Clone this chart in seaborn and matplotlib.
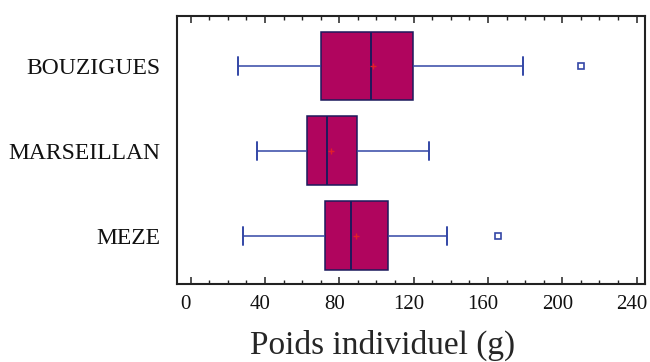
import numpy as np
import pandas as pd
import matplotlib
matplotlib.use("Agg")
import matplotlib.pyplot as plt
import matplotlib.transforms as mtransforms
import seaborn as sns
from matplotlib.ticker import MultipleLocator

# box summary (g)
sites = ["BOUZIGUES", "MARSEILLAN", "MEZE"]
whis_low = [25.6, 35.5, 28.3]
q1 = [70.1, 62.4, 72.3]
median = [97.2, 73.5, 86.3]
q3 = [119.5, 89.5, 106.4]
whis_high = [179.0, 128.4, 137.8]
outliers = [[209.9], [], [165.6]]
means = [98.3, 75.5, 88.8]

# rebuild a small sample per site whose quartiles give those boxes
rows = []
for i, s in enumerate(sites):
    vals = [whis_low[i], q1[i], q1[i], median[i], median[i], median[i], q3[i]]
    if outliers[i]:
        vals += [whis_high[i]] + outliers[i]
    else:
        vals += [q3[i], whis_high[i]]
    rows += [(s, v) for v in vals]
df = pd.DataFrame(rows, columns=["site", "poids"])

sns.set_style("ticks")
plt.rcParams["font.family"] = ["Liberation Serif", "DejaVu Serif"]
plt.rcParams["text.color"] = "#111111"
plt.rcParams["xtick.labelcolor"] = "#111111"
plt.rcParams["ytick.labelcolor"] = "#111111"

fill = "#B0055E"
edge = "#1c1a5c"
blue = "#3346a6"

fig = plt.figure(figsize=(6.5, 3.62), dpi=100)
ax = fig.add_axes([176.7 / 650, 1 - 284 / 362, (645 - 176.7) / 650, (284 - 16) / 362])

sns.boxplot(data=df, x="poids", y="site", order=sites, ax=ax, width=0.81,
            color=fill, saturation=1, linewidth=1.1, capwidths=0.21,
            boxprops=dict(facecolor=fill, edgecolor=edge, linewidth=1.1),
            medianprops=dict(color=edge, linewidth=1.4),
            whiskerprops=dict(color=blue, linewidth=1.1),
            capprops=dict(color=blue, linewidth=1.4),
            flierprops=dict(marker="s", markerfacecolor="white",
                            markeredgecolor=blue, markersize=4.5,
                            markeredgewidth=1.2))
sns.scatterplot(x=means, y=sites, ax=ax, marker="+", color="#e0202a",
                s=18, linewidth=1.0, zorder=5, legend=False)

ax.set_xlim(-7.5, 244.5)
ax.set_ylim(2.57, -0.59)
ax.xaxis.set_major_locator(MultipleLocator(40))
ax.xaxis.set_minor_locator(MultipleLocator(10))
ax.tick_params(axis="x", which="both", direction="in", top=True, bottom=True,
               color="#222222", labelsize=15, pad=8)
ax.tick_params(axis="x", which="major", length=5, width=1.1)
ax.tick_params(axis="x", which="minor", length=3, width=1.0)
ax.tick_params(axis="y", length=0, labelsize=17, pad=12)
for sp in ax.spines.values():
    sp.set_visible(True)
    sp.set_linewidth(1.5)
    sp.set_color("#222222")

# tick numbers sit a little left of their ticks in the original
shift = mtransforms.ScaledTranslation(-5 / 100, 0, fig.dpi_scale_trans)
for lab in ax.get_xticklabels():
    lab.set_transform(lab.get_transform() + shift)

ax.set_ylabel("")
ax.set_xlabel("Poids individuel (g)", fontsize=24)
ax.xaxis.set_label_coords(0.44, -0.17)

fig.savefig("out.png", dpi=100)
